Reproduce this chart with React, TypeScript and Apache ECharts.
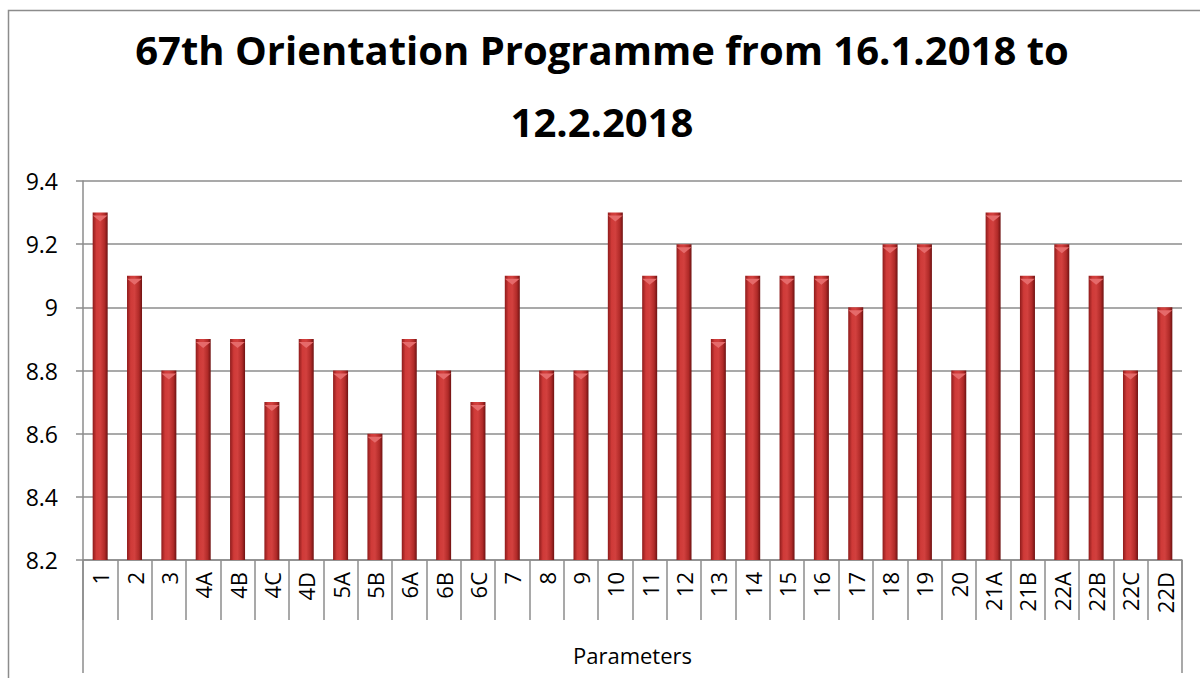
import React, { useEffect, useRef } from "react";
import * as echarts from "echarts";

const categories = ["1","2","3","4A","4B","4C","4D","5A","5B","6A","6B","6C","7","8","9","10","11","12","13","14","15","16","17","18","19","20","21A","21B","22A","22B","22C","22D"];
const scores = [9.3,9.1,8.8,8.9,8.9,8.7,8.9,8.8,8.6,8.9,8.8,8.7,9.1,8.8,8.8,9.3,9.1,9.2,8.9,9.1,9.1,9.1,9.0,9.2,9.2,8.8,9.3,9.1,9.2,9.1,8.8,9.0];
const titleLines = ["67th Orientation Programme from 16.1.2018 to", "12.2.2018"];
const xAxisName = "Parameters";
const yMin = 8.2;
const yMax = 9.4;
const yStep = 0.2;

const FONT = "'Open Sans', 'Noto Sans', sans-serif";
const GRAY = "#8c8c8c";

export default function App() {
  const ref = useRef<HTMLDivElement>(null);
  useEffect(() => {
    document.body.style.margin = "0";
    if (!ref.current) return;
    const chart = echarts.init(ref.current, null, { renderer: "svg" });
    const gridLeft = 83, gridRight = 1182, gridTop = 181, gridBottom = 560;
    chart.setOption({
      animation: false,
      backgroundColor: "#ffffff",
      title: {
        text: titleLines.join("\n"),
        left: 597,
        textAlign: "center",
        top: 8,
        textStyle: { fontFamily: FONT, fontWeight: "bold", fontSize: 40, lineHeight: 72, color: "#000" },
      },
      grid: { left: gridLeft, right: 1200 - gridRight, top: gridTop, bottom: 678 - gridBottom, containLabel: false },
      xAxis: {
        type: "category",
        data: categories,
        axisLine: { lineStyle: { color: GRAY, width: 1.5 } },
        axisTick: { show: true, length: 60, interval: 0, alignWithLabel: false, lineStyle: { color: GRAY, width: 1.5 } },
        axisLabel: { rotate: 90, margin: 12, interval: 0, fontFamily: FONT, fontSize: 22, color: "#000" },
        splitLine: { show: false },
      },
      yAxis: {
        type: "value",
        min: yMin,
        max: yMax,
        interval: yStep,
        axisLine: { show: true, lineStyle: { color: GRAY, width: 1.5 } },
        axisTick: { show: true, length: 7, lineStyle: { color: GRAY, width: 1.5 } },
        axisLabel: {
          margin: 25,
          fontFamily: FONT,
          fontSize: 23,
          color: "#000",
          formatter: (v: number) => String(+v.toFixed(1)),
        },
        splitLine: { show: true, lineStyle: { color: GRAY, width: 1.5 } },
      },
      series: [
        {
          type: "bar",
          data: scores,
          barWidth: 15,
          itemStyle: {
            color: new echarts.graphic.LinearGradient(0, 0, 1, 0, [
              { offset: 0, color: "#8e1b1b" },
              { offset: 0.25, color: "#cf3a38" },
              { offset: 0.5, color: "#d2403e" },
              { offset: 0.8, color: "#b02a28" },
              { offset: 1, color: "#6e1212" },
            ]),
          },
          z: 2,
        },
        {
          type: "pictorialBar",
          data: scores,
          symbol: "triangle",
          symbolRotate: 180,
          symbolSize: [15, 6],
          symbolPosition: "end",
          symbolOffset: [0, "50%"],
          itemStyle: { color: "#e56a6a" },
          barGap: "-100%",
          z: 3,
          silent: true,
        },
      ],
      graphic: [
        { type: "rect", shape: { x: 8.5, y: 10.5, width: 1300, height: 800 }, style: { fill: "none", stroke: GRAY, lineWidth: 1.5 }, silent: true },
        { type: "line", shape: { x1: gridLeft, y1: gridBottom, x2: gridLeft, y2: 673 }, style: { stroke: GRAY, lineWidth: 1.5 } },
        { type: "line", shape: { x1: gridRight, y1: gridBottom, x2: gridRight, y2: 673 }, style: { stroke: GRAY, lineWidth: 1.5 } },
        {
          type: "text",
          x: (gridLeft + gridRight) / 2,
          y: 655,
          style: { text: xAxisName, fontFamily: FONT, fontSize: 22, fill: "#000", textAlign: "center", textVerticalAlign: "middle" },
        },
      ],
    });
    return () => chart.dispose();
  }, []);
  return <div ref={ref} style={{ width: 1200, height: 678 }} />;
}
